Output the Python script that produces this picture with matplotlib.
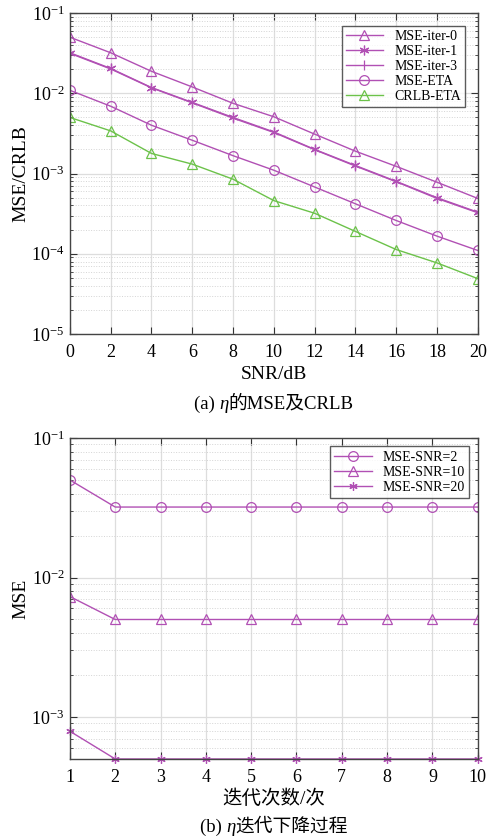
import matplotlib
matplotlib.use("Agg")
import matplotlib.pyplot as plt
from matplotlib.offsetbox import TextArea, HPacker, AnnotationBbox
from matplotlib.ticker import LogLocator, NullFormatter
import numpy as np

plt.rcParams["font.family"] = ["Liberation Serif", "Noto Sans CJK SC"]
plt.rcParams["mathtext.fontset"] = "custom"
plt.rcParams["mathtext.rm"] = "Liberation Serif"
plt.rcParams["mathtext.it"] = "Liberation Serif:italic"

# ---- data: panel (a) ----
snr = [0, 2, 4, 6, 8, 10, 12, 14, 16, 18, 20]
mse_iter0 = [0.050, 0.032, 0.0188, 0.0120, 0.0075, 0.0051, 0.0031, 0.0019, 0.00123, 0.00078, 0.00049]
mse_iter1 = [0.032, 0.0204, 0.0118, 0.0077, 0.0050, 0.0033, 0.0020, 0.00126, 0.00080, 0.00050, 0.00033]
mse_iter3 = [0.0315, 0.0201, 0.0117, 0.0076, 0.0049, 0.00325, 0.00198, 0.00124, 0.00079, 0.00049, 0.000325]
mse_eta = [0.0109, 0.0069, 0.0040, 0.0026, 0.00167, 0.0011, 0.00068, 0.00042, 0.00026, 0.000166, 0.00011]
crlb_eta = [0.0050, 0.0034, 0.00178, 0.00131, 0.00085, 0.00046, 0.00032, 0.00019, 0.000113, 0.000077, 0.000049]

# ---- data: panel (b) ----
iters = [1, 2, 3, 4, 5, 6, 7, 8, 9, 10]
mse_snr2 = [0.050, 0.032, 0.032, 0.032, 0.032, 0.032, 0.032, 0.032, 0.032, 0.032]
mse_snr10 = [0.0073, 0.0050, 0.0050, 0.0050, 0.0050, 0.0050, 0.0050, 0.0050, 0.0050, 0.0050]
mse_snr20 = [0.00079, 0.0005, 0.0005, 0.0005, 0.0005, 0.0005, 0.0005, 0.0005, 0.0005, 0.0005]

purple = "#b150b4"
green = "#6cc24a"
lw = 1.0
ms = 7
asterisk = (6, 2, 0)

fig = plt.figure(figsize=(4.89, 8.38), dpi=100)
ax1 = fig.add_axes([0.143, 0.6014, 0.834, 0.383])
ax2 = fig.add_axes([0.143, 0.0943, 0.834, 0.383])


def style_axes(ax):
    ax.set_yscale("log")
    ax.yaxis.set_minor_locator(LogLocator(base=10, subs=np.arange(2, 10)))
    ax.yaxis.set_minor_formatter(NullFormatter())
    ax.grid(True, which="major", color="#dddddd", lw=0.9, ls="-")
    ax.grid(True, which="minor", color="#d4d4d4", lw=0.7, ls=":")
    ax.set_axisbelow(True)
    ax.tick_params(which="both", direction="in", top=True, right=True,
                   labelsize=13, color="#333333")
    ax.tick_params(axis="x", pad=7)
    ax.tick_params(axis="y", pad=4)
    ax.tick_params(which="major", length=5)
    ax.tick_params(which="minor", length=2.5)
    for sp in ax.spines.values():
        sp.set_color("#444444")
        sp.set_linewidth(1.0)


def caption(ax, parts, y):
    areas = [TextArea(t, textprops=p) for t, p in parts]
    box = HPacker(children=areas, align="baseline", pad=0, sep=0)
    ab = AnnotationBbox(box, (0.5, y), xycoords="axes fraction",
                        box_alignment=(0.5, 0.5), frameon=False,
                        annotation_clip=False)
    ax.add_artist(ab)


cap_size = 13.5
serif = dict(family="Liberation Serif", size=cap_size)
serif_it = dict(family="Liberation Serif", style="italic", size=cap_size)
cjk = dict(family=["Liberation Serif", "Noto Sans CJK SC"], size=cap_size)

# panel (a)
ax1.plot(snr, mse_iter0, color=purple, lw=lw, marker="^", mfc="none", ms=ms, mew=0.9, label="MSE-iter-0")
ax1.plot(snr, mse_iter1, color=purple, lw=lw, marker=asterisk, mfc="none", ms=ms, mew=0.9, label="MSE-iter-1")
ax1.plot(snr, mse_iter3, color=purple, lw=lw, marker="|", mfc="none", ms=ms, mew=0.9, label="MSE-iter-3")
ax1.plot(snr, mse_eta, color=purple, lw=lw, marker="o", mfc="none", ms=ms, mew=0.9, label="MSE-ETA")
ax1.plot(snr, crlb_eta, color=green, lw=lw, marker="^", mfc="none", ms=ms, mew=0.9, label="CRLB-ETA")
style_axes(ax1)
ax1.set_xlim(0, 20)
ax1.set_ylim(1e-5, 1e-1)
ax1.set_xticks(snr)
ax1.set_xlabel("SNR/dB", fontsize=14, labelpad=4)
ax1.set_ylabel("MSE/CRLB", fontsize=14, labelpad=1)
leg1 = ax1.legend(loc="upper right", fontsize=10, frameon=True, fancybox=False,
                  edgecolor="#333333", handlelength=2.7, borderpad=0.3,
                  labelspacing=0.15, borderaxespad=0.9)
leg1.get_frame().set_linewidth(1.0)
caption(ax1, [("(a) ", serif), ("η", serif_it), ("的MSE及CRLB", cjk)], -0.218)

# panel (b)
ax2.plot(iters, mse_snr2, color=purple, lw=lw, marker="o", mfc="none", ms=ms, mew=0.9, label="MSE-SNR=2")
ax2.plot(iters, mse_snr10, color=purple, lw=lw, marker="^", mfc="none", ms=ms, mew=0.9, label="MSE-SNR=10")
ax2.plot(iters, mse_snr20, color=purple, lw=lw, marker=asterisk, mfc="none", ms=6, mew=0.9, label="MSE-SNR=20",
         clip_on=False)
style_axes(ax2)
ax2.set_xlim(1, 10)
ax2.set_ylim(5e-4, 1e-1)
ax2.set_xticks(iters)
ax2.set_xlabel("迭代次数/次", fontsize=14, labelpad=3, family=["Liberation Serif", "Noto Sans CJK SC"])
ax2.set_ylabel("MSE", fontsize=14, labelpad=1)
leg2 = ax2.legend(loc="upper right", fontsize=10, frameon=True, fancybox=False,
                  edgecolor="#333333", handlelength=2.7, borderpad=0.3,
                  labelspacing=0.15, borderaxespad=0.6)
leg2.get_frame().set_linewidth(1.0)
caption(ax2, [("(b) ", serif), ("η", serif_it), ("迭代下降过程", cjk)], -0.212)

fig.savefig("out.png", dpi=100)
